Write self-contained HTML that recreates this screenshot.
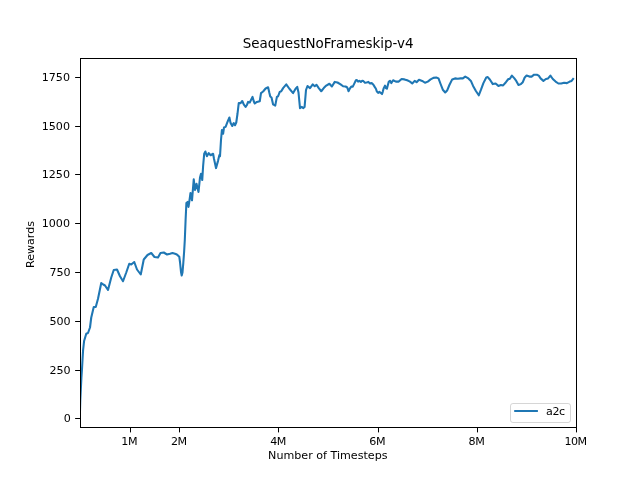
<!DOCTYPE html>
<html><head><meta charset="utf-8"><title>SeaquestNoFrameskip-v4</title>
<style>
html,body{margin:0;padding:0;background:#fff;}
svg{display:block;}
text{font-family:'DejaVu Sans','Liberation Sans',sans-serif;fill:#000;}
</style></head><body>
<svg width="640" height="480" viewBox="0 0 640 480">
<rect x="0" y="0" width="640" height="480" fill="#ffffff"/>

<g stroke="#000" stroke-width="1" fill="none">
<line x1="75.14" y1="418.50" x2="80.00" y2="418.50"/>
<line x1="75.14" y1="370.50" x2="80.00" y2="370.50"/>
<line x1="75.14" y1="321.50" x2="80.00" y2="321.50"/>
<line x1="75.14" y1="272.50" x2="80.00" y2="272.50"/>
<line x1="75.14" y1="223.50" x2="80.00" y2="223.50"/>
<line x1="75.14" y1="174.50" x2="80.00" y2="174.50"/>
<line x1="75.14" y1="126.50" x2="80.00" y2="126.50"/>
<line x1="75.14" y1="77.50" x2="80.00" y2="77.50"/>
<line x1="130.50" y1="428.00" x2="130.50" y2="432.40"/>
<line x1="179.50" y1="428.00" x2="179.50" y2="432.40"/>
<line x1="278.50" y1="428.00" x2="278.50" y2="432.40"/>
<line x1="378.50" y1="428.00" x2="378.50" y2="432.40"/>
<line x1="477.50" y1="428.00" x2="477.50" y2="432.40"/>
<line x1="576.50" y1="428.00" x2="576.50" y2="432.40"/>
</g>
<g font-size="11.11px">
<text x="70.90" y="421.60" text-anchor="end">0</text>
<text x="70.70" y="373.60" text-anchor="end">250</text>
<text x="70.70" y="324.60" text-anchor="end">500</text>
<text x="70.70" y="275.60" text-anchor="end">750</text>
<text x="70.00" y="226.60" text-anchor="end">1000</text>
<text x="70.00" y="177.60" text-anchor="end">1250</text>
<text x="70.00" y="129.60" text-anchor="end">1500</text>
<text x="70.00" y="80.60" text-anchor="end">1750</text>
<text x="129.20" y="444.80" text-anchor="middle" letter-spacing="-0.5">1M</text>
<text x="178.80" y="444.80" text-anchor="middle" letter-spacing="-0.5">2M</text>
<text x="278.00" y="444.80" text-anchor="middle" letter-spacing="-0.5">4M</text>
<text x="377.20" y="444.80" text-anchor="middle" letter-spacing="-0.5">6M</text>
<text x="476.40" y="444.80" text-anchor="middle" letter-spacing="-0.5">8M</text>
<text x="575.60" y="444.80" text-anchor="middle" letter-spacing="-0.5">10M</text>
</g>
<clipPath id="c"><rect x="80.5" y="58.5" width="496.0" height="369.0"/></clipPath>
<path d="M80.00,410.50 L80.30,400.00 L80.80,390.00 L81.40,378.00 L82.00,369.00 L82.50,360.00 L83.10,350.00 L84.10,341.00 L86.25,333.75 L88.00,333.00 L90.00,327.50 L91.25,317.50 L93.75,307.00 L95.75,307.00 L98.00,298.75 L101.25,283.00 L103.25,284.50 L105.00,285.50 L108.00,290.00 L111.25,277.50 L113.75,270.00 L117.00,269.50 L120.00,276.25 L123.00,281.25 L126.25,272.50 L129.25,263.75 L131.25,264.50 L134.25,262.00 L137.00,269.50 L140.75,274.50 L143.75,259.50 L147.50,255.00 L151.25,253.00 L154.50,257.00 L158.00,257.50 L160.50,253.00 L163.75,252.50 L167.00,254.50 L170.00,253.75 L172.50,253.00 L175.00,253.75 L176.30,254.20 L177.90,255.40 L179.30,256.80 L180.00,262.00 L181.00,272.00 L181.70,275.50 L182.50,272.50 L183.30,263.00 L184.10,252.00 L184.80,240.00 L185.60,220.00 L186.40,203.00 L187.60,201.90 L188.50,206.90 L189.75,198.50 L190.50,193.00 L191.20,194.50 L192.00,200.30 L193.75,179.40 L195.00,190.00 L196.50,183.75 L198.50,191.90 L200.00,177.50 L201.00,173.75 L202.25,180.00 L203.10,166.25 L204.20,153.75 L205.40,151.50 L206.90,156.25 L208.75,153.10 L210.60,155.25 L213.10,153.75 L214.00,158.75 L216.00,168.10 L218.10,160.60 L219.40,155.00 L220.00,156.25 L221.00,140.00 L221.90,130.00 L223.10,133.75 L224.00,127.50 L225.60,126.90 L227.50,121.90 L229.40,117.50 L230.60,123.10 L232.25,126.00 L233.75,123.10 L235.00,125.25 L236.25,122.50 L237.50,113.75 L238.75,103.10 L240.60,103.10 L242.25,101.00 L243.75,104.40 L245.60,106.90 L246.90,105.00 L248.10,101.90 L249.75,102.50 L252.50,96.90 L253.75,101.25 L254.75,103.50 L256.90,101.90 L259.75,101.25 L261.00,93.10 L263.10,91.50 L265.60,88.50 L268.10,87.25 L269.40,93.10 L270.25,96.50 L271.50,97.50 L273.10,104.40 L275.25,105.60 L276.90,96.90 L278.10,96.25 L279.75,91.90 L281.25,91.25 L283.10,88.10 L286.25,84.40 L289.40,88.75 L293.10,93.10 L295.60,88.75 L297.25,86.90 L298.50,92.50 L300.00,108.10 L301.90,106.90 L303.10,108.10 L304.60,106.90 L306.00,90.00 L307.50,86.00 L310.00,88.10 L312.75,84.40 L314.75,86.25 L316.50,84.75 L318.75,88.10 L321.25,91.25 L323.75,88.10 L326.25,85.60 L329.40,83.75 L331.90,86.50 L334.75,81.90 L337.50,82.50 L340.60,84.40 L343.10,86.25 L345.60,86.50 L347.25,87.50 L348.50,91.25 L350.00,88.30 L351.25,86.60 L352.80,86.60 L354.40,83.40 L355.90,80.30 L356.90,80.00 L358.10,81.60 L359.40,80.90 L360.90,81.90 L362.20,80.75 L363.40,81.10 L365.00,82.80 L366.60,82.50 L368.40,81.90 L370.00,83.40 L371.90,83.10 L373.40,84.70 L374.70,86.90 L375.90,88.75 L376.90,91.60 L378.10,92.80 L379.40,91.90 L380.60,92.80 L382.00,94.10 L382.80,91.60 L383.75,88.10 L385.00,85.60 L385.90,88.10 L386.90,88.75 L387.80,85.30 L388.75,81.90 L390.00,80.80 L391.25,83.10 L393.10,80.30 L395.90,81.60 L398.75,81.60 L401.60,79.00 L404.40,79.40 L407.20,80.30 L410.00,81.60 L412.25,83.50 L414.70,80.90 L416.60,82.20 L419.00,79.75 L422.20,80.90 L425.00,82.75 L427.80,81.60 L430.60,79.40 L433.40,77.90 L436.25,77.50 L438.50,78.40 L440.40,83.50 L442.80,89.70 L445.25,92.50 L447.10,90.60 L449.40,85.00 L452.20,79.40 L455.00,78.40 L457.80,78.80 L460.60,78.40 L462.80,78.40 L465.25,76.60 L468.40,78.40 L470.90,80.90 L473.10,85.90 L475.90,91.00 L478.75,95.30 L481.00,89.70 L483.40,83.10 L486.25,77.50 L487.75,77.10 L490.00,79.75 L492.80,84.10 L495.60,83.50 L498.40,85.90 L500.90,85.00 L503.10,85.40 L505.90,82.20 L508.40,79.00 L509.70,79.00 L511.90,75.60 L514.40,78.40 L516.25,80.90 L518.50,85.00 L520.90,84.10 L522.80,82.20 L524.70,77.50 L526.60,75.60 L529.40,76.60 L531.60,76.60 L534.10,74.70 L536.90,74.70 L538.75,75.60 L540.60,78.40 L543.40,80.90 L545.90,79.00 L548.10,78.40 L550.40,75.60 L552.80,79.00 L555.60,81.60 L558.40,83.50 L561.25,83.50 L564.10,82.75 L566.90,83.10 L569.70,81.60 L571.60,80.90 L573.10,79.00" clip-path="url(#c)" fill="none" stroke="#1f77b4" stroke-width="2.08" stroke-linejoin="round" stroke-linecap="square"/>
<rect x="80.5" y="58.5" width="496.0" height="369.0" fill="none" stroke="#000" stroke-width="1" stroke-linejoin="miter"/>
<text x="327.80" y="459.3" font-size="11.11px" text-anchor="middle">Number of Timesteps</text>
<text transform="translate(34.0,244.50) rotate(-90)" font-size="11.11px" text-anchor="middle">Rewards</text>
<text x="328.20" y="48.4" font-size="13.45px" text-anchor="middle">SeaquestNoFrameskip-v4</text>
<rect x="510.5" y="403.5" width="60" height="19" rx="2.4" ry="2.4" fill="#fff" fill-opacity="0.8" stroke="#ccc" stroke-opacity="0.8" stroke-width="1"/>
<line x1="514.2" y1="411" x2="537.9" y2="411" stroke="#1f77b4" stroke-width="2"/>
<text x="546.0" y="415.1" font-size="11.11px" letter-spacing="-0.4">a2c</text>
</svg></body></html>
